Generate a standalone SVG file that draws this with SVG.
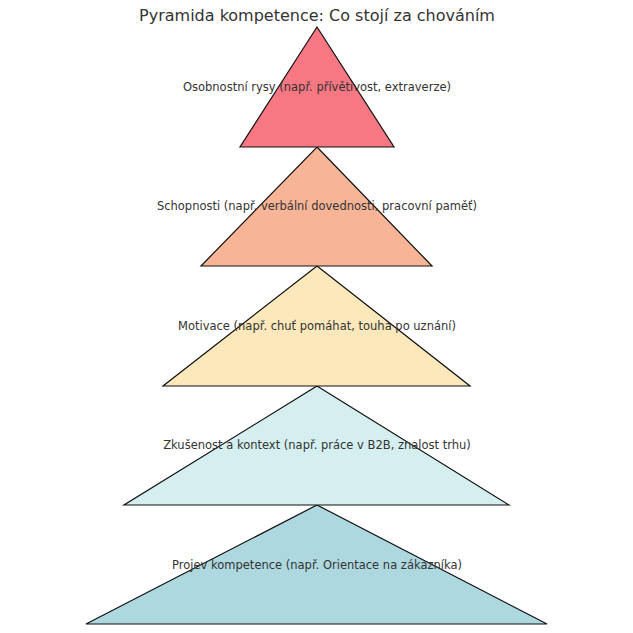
<svg xmlns="http://www.w3.org/2000/svg" width="633" height="633" viewBox="0 0 633 633">
<style>
.t{stroke:#111;stroke-width:1.2}
.l{font-family:"DejaVu Sans",sans-serif;font-size:11.5px;fill:#333;text-anchor:middle}
.h{font-family:"DejaVu Sans",sans-serif;font-size:16px;fill:#333;text-anchor:middle}
</style>
<rect width="633" height="633" fill="#fff"/>
<text class="h" x="317" y="21">Pyramida kompetence: Co stojí za chováním</text>
<g id="n5"><polygon class="t" fill="#AED8E0" points="317,505 547,624 86,624"/><text class="l" x="317" y="569">Projev kompetence (např. Orientace na zákazníka)</text></g>
<g id="n4"><polygon class="t" fill="#D5EFF0" points="317,386 509,505 124,505"/><text class="l" x="317" y="449">Zkušenost a kontext (např. práce v B2B, znalost trhu)</text></g>
<g id="n3"><polygon class="t" fill="#FCE8BB" points="317,266 470,386 163,386"/><text class="l" x="317" y="330">Motivace (např. chuť pomáhat, touha po uznání)</text></g>
<g id="n2"><polygon class="t" fill="#F8B497" points="317,147 432,266 201,266"/><text class="l" x="317" y="210">Schopnosti (např. verbální dovednosti, pracovní paměť)</text></g>
<g id="n1"><polygon class="t" fill="#F77782" points="317,27 394,147 240,147"/><text class="l" x="317" y="91">Osobnostní rysy (např. přívětivost, extraverze)</text></g>
<g id="connectors"/>
</svg>
